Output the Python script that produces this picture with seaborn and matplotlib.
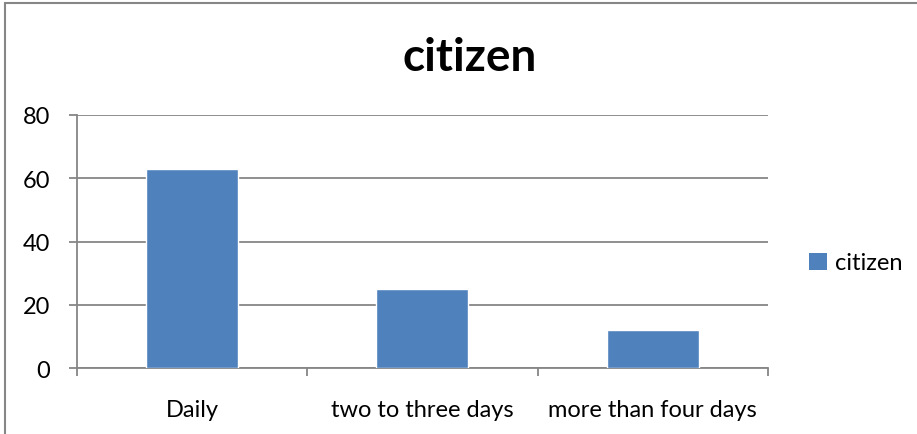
import matplotlib
matplotlib.use("Agg")
import matplotlib.pyplot as plt
import seaborn as sns
import pandas as pd
from matplotlib.patches import Rectangle, Patch

categories = ["Daily", "two to three days", "more than four days"]
values = [63, 25, 12]
series_name = "citizen"
title = "citizen"
yticks = [0, 20, 40, 60, 80]

sns.set_style("white")
plt.rcParams['font.family'] = ['Lato', 'DejaVu Sans']
plt.rcParams['text.color'] = 'black'
plt.rcParams['xtick.color'] = 'black'
plt.rcParams['ytick.color'] = 'black'

df = pd.DataFrame({"category": categories, "value": values})

fig = plt.figure(figsize=(9.17, 4.35), dpi=100)
ax = fig.add_axes([76.7/917, 1-369.3/435, (768-76.7)/917, (369.3-116)/435])

sns.barplot(data=df, x="category", y="value", color="#4F81BD", width=0.4,
            saturation=1, ax=ax, zorder=3)
ax.set_xlim(-0.5, 2.5)
ax.set_ylim(0, 80)
ax.set_yticks(yticks)
ax.set_xlabel("")
ax.set_ylabel("")
ax.yaxis.grid(True, color="#868686", linewidth=1.3)
ax.set_axisbelow(True)
for s in ["top", "right"]:
    ax.spines[s].set_visible(False)
for s in ["left", "bottom"]:
    ax.spines[s].set_color("#868686")
    ax.spines[s].set_linewidth(1.3)

ax.tick_params(axis="y", which="major", length=6, width=1.3, color="#868686",
               labelsize=17, labelcolor="black", pad=13, direction="out", left=True)
ax.set_xticks([-0.5, 0.5, 1.5, 2.5], minor=True)
ax.tick_params(axis="x", which="minor", length=6, width=1.3, color="#868686",
               direction="out", bottom=True)
ax.tick_params(axis="x", which="major", length=0, labelsize=17, labelcolor="black", pad=22)

fig.text(470/917, 1-58/435, title, ha="center", va="center",
         fontsize=33, fontweight="bold", color="black")

handle = Patch(facecolor="#4F81BD", edgecolor="none", label=series_name)
fig.legend(handles=[handle], loc="center left",
           bbox_to_anchor=(809/917, 1-264/435), frameon=False,
           fontsize=17, handlelength=0.75, handleheight=0.75, handletextpad=0.35,
           borderaxespad=0, borderpad=0)

fig.patches.append(Rectangle((5/917, -0.1), 1.2, 1-4/435+0.1, transform=fig.transFigure,
                             fill=False, edgecolor="#868686", linewidth=1.5))

fig.savefig("out.png", dpi=100)
